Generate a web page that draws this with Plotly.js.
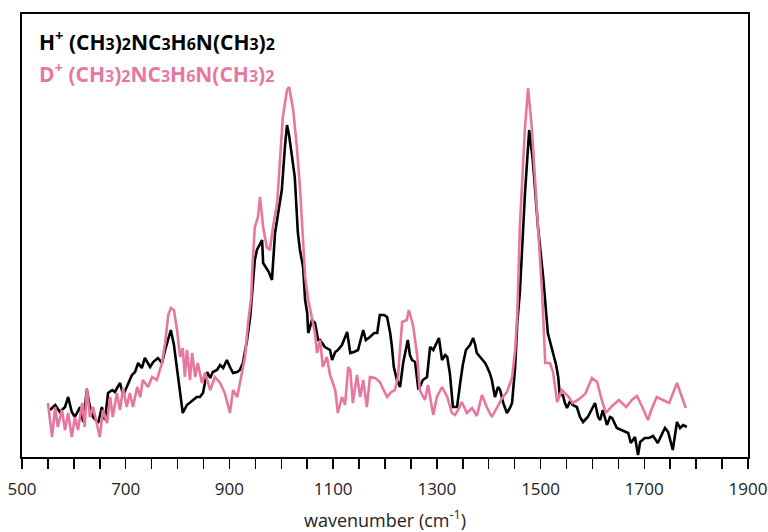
<!DOCTYPE html>
<html>
<head>
<meta charset="utf-8">
<script src="https://cdn.plot.ly/plotly-3.0.1.min.js"></script>
<style>
html,body{margin:0;padding:0;background:#fff;}
#chart{width:768px;height:532px;}
</style>
</head>
<body>
<div id="chart"></div>
<script>
// H+ (CH3)2NC3H6N(CH3)2  — black trace
const hWavenumber = [554,564,573,583,589,596,602,612,618,625,631,637,647,654,660,666,674,679,689,695,702,712,718,724,731,737,747,753,762,770,776,782,787,793,799,805,810,818,824,830,837,843,849,857,863,868,876,882,888,895,901,907,915,920,926,934,940,944,949,953,959,963,965,971,976,982,988,994,1001,1007,1011,1015,1021,1026,1032,1036,1042,1046,1050,1052,1055,1059,1065,1071,1075,1084,1094,1098,1104,1109,1117,1127,1133,1140,1148,1158,1163,1171,1179,1185,1190,1198,1204,1210,1213,1217,1223,1229,1235,1244,1248,1252,1258,1264,1267,1273,1281,1287,1293,1298,1304,1310,1316,1320,1325,1331,1339,1345,1350,1356,1360,1364,1370,1374,1377,1383,1387,1393,1397,1402,1406,1412,1418,1422,1428,1435,1441,1445,1451,1455,1460,1470,1478,1485,1495,1505,1514,1524,1530,1534,1537,1543,1547,1551,1557,1562,1570,1576,1582,1591,1599,1605,1611,1615,1620,1628,1634,1638,1647,1657,1663,1669,1674,1682,1688,1692,1701,1709,1717,1726,1736,1740,1746,1755,1763,1769,1775,1782];
const hIntensity = [47,52,45,50,60,45,40,50,35,67,50,40,34,50,37,64,67,65,74,62,70,82,85,94,89,99,90,95,99,94,107,119,127,112,87,62,44,52,55,57,60,60,64,85,79,85,87,92,89,97,90,84,85,87,94,117,140,164,197,207,214,217,194,189,185,177,224,244,267,310,332,322,300,280,224,207,190,157,144,124,129,137,134,117,117,110,107,97,105,107,112,125,104,105,107,127,117,120,124,124,142,142,140,124,112,90,77,70,94,117,102,97,95,69,70,77,80,110,107,112,119,97,102,100,84,50,50,74,92,107,109,112,119,112,104,100,97,94,90,84,77,60,70,67,54,44,49,54,90,134,164,264,327,297,230,180,124,104,92,80,62,62,54,49,56,52,50,40,35,40,49,54,40,37,47,32,40,39,29,27,26,24,14,20,2,15,19,19,21,14,25,29,25,7,35,29,32,30];

// D+ (CH3)2NC3H6N(CH3)2 — pink trace
const dWavenumber = [550,554,558,564,569,577,583,589,596,602,608,616,621,625,631,637,645,650,656,664,670,675,683,689,695,702,708,714,722,728,733,743,751,760,770,776,782,787,793,799,805,810,814,818,824,828,834,839,847,853,863,872,882,891,901,907,915,924,930,936,942,945,949,955,959,965,972,978,984,992,998,1003,1011,1015,1023,1030,1036,1040,1046,1052,1059,1065,1069,1075,1080,1088,1094,1104,1109,1117,1123,1129,1133,1138,1146,1152,1158,1165,1171,1181,1190,1204,1212,1219,1225,1233,1242,1246,1254,1262,1267,1277,1283,1293,1300,1310,1320,1329,1335,1341,1348,1358,1368,1377,1387,1397,1406,1416,1426,1435,1445,1451,1455,1460,1470,1476,1483,1489,1495,1503,1509,1518,1524,1532,1541,1553,1562,1572,1586,1599,1609,1618,1626,1638,1651,1665,1676,1686,1697,1707,1715,1724,1736,1748,1763,1773,1780];
const dIntensity = [54,37,20,50,30,47,27,44,20,40,27,54,30,69,40,50,30,20,47,34,60,40,64,47,69,50,64,50,70,60,77,70,80,77,94,114,142,149,147,127,100,109,80,107,77,104,80,94,74,84,67,80,74,64,44,67,60,84,100,134,160,197,230,240,260,230,210,207,230,254,297,340,367,370,347,310,270,230,180,157,137,124,104,117,90,100,82,67,44,60,52,90,87,54,82,60,77,50,80,79,75,60,65,67,80,135,137,147,132,102,67,57,72,42,60,70,60,44,42,47,55,44,49,41,62,49,40,50,59,65,79,107,142,230,330,369,330,280,230,164,94,94,85,55,67,61,54,57,63,79,75,57,44,51,57,50,57,61,49,37,49,60,57,54,74,60,49];

const xTickVals = [500,700,900,1100,1300,1500,1700,1900];
const seriesLabels = ['H', 'D'];

const FONT = '"Open Sans", "Liberation Sans", sans-serif';
const PINK = '#e8779f';

function formula(ion) {
  const d = n => '<span style="font-size:16px">' + n + '</span>';
  return '<b>' + ion + '<sup>+</sup> (CH' + d(3) + ')' + d(2) + 'NC' + d(3) + 'H' + d(6) + 'N(CH' + d(3) + ')' + d(2) + '</b>';
}

const traces = [
  {x: hWavenumber, y: hIntensity, type: 'scatter', mode: 'lines',
   line: {color: '#000000', width: 2.6}, hoverinfo: 'skip', showlegend: false},
  {x: dWavenumber, y: dIntensity, type: 'scatter', mode: 'lines',
   line: {color: PINK, width: 2.6}, hoverinfo: 'skip', showlegend: false}
];

const layout = {
  width: 768, height: 532,
  margin: {l: 22, r: 20, t: 14, b: 75},
  paper_bgcolor: '#ffffff', plot_bgcolor: '#ffffff',
  showlegend: false,
  font: {family: FONT, color: '#222'},
  xaxis: {
    range: [500, 1900],
    tickmode: 'array', tickvals: xTickVals, ticktext: xTickVals.map(String),
    ticks: 'outside', ticklen: 10, tickwidth: 1.5, tickcolor: '#000',
    ticklabelstandoff: 6,
    minor: {dtick: 50, tick0: 500, ticks: 'outside', ticklen: 10, tickwidth: 1.5, tickcolor: '#000', showgrid: false},
    showline: true, linecolor: '#000', linewidth: 2, mirror: true,
    showgrid: false, zeroline: false,
    tickfont: {family: FONT, size: 17, color: '#222'},
    title: {text: 'wavenumber (cm<sup>-1</sup>)', font: {family: FONT, size: 18, color: '#222'}, standoff: 16}
  },
  yaxis: {
    range: [0, 443],
    showticklabels: false, ticks: '',
    showline: true, linecolor: '#000', linewidth: 2, mirror: true,
    showgrid: false, zeroline: false
  },
  annotations: [
    {xref: 'paper', yref: 'paper', x: 0.02, y: 0.941, xanchor: 'left', yanchor: 'middle', showarrow: false,
     text: formula(seriesLabels[0]),
     font: {family: FONT, size: 21, color: '#000'}},
    {xref: 'paper', yref: 'paper', x: 0.02, y: 0.869, xanchor: 'left', yanchor: 'middle', showarrow: false,
     text: formula(seriesLabels[1]),
     font: {family: FONT, size: 21, color: PINK}}
  ]
};

Plotly.newPlot('chart', traces, layout, {staticPlot: true, displayModeBar: false});
</script>
</body>
</html>
